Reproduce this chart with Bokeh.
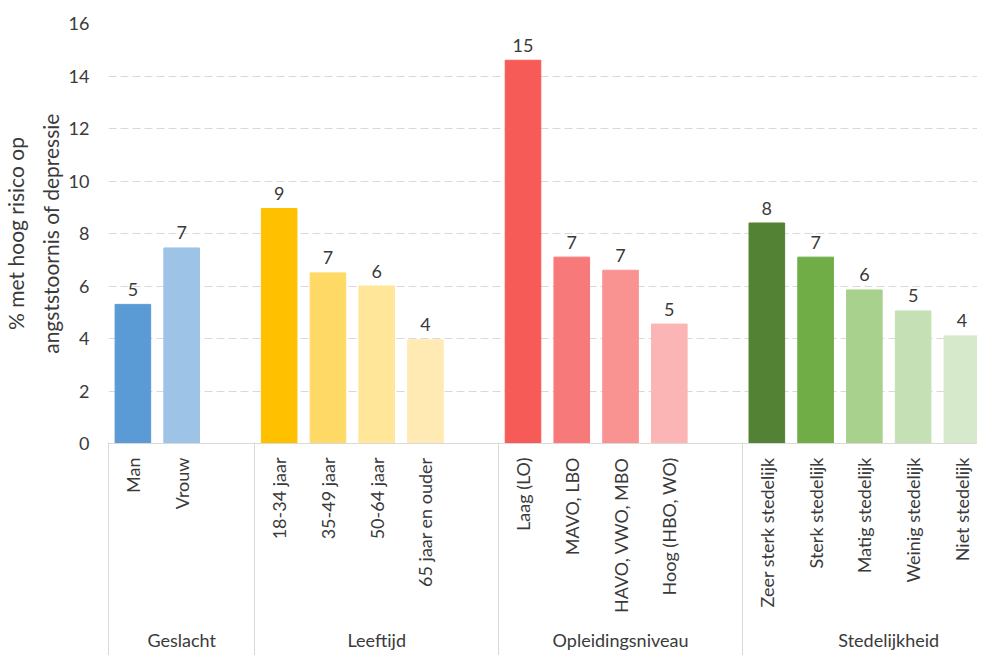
from math import pi
from bokeh.plotting import figure
from bokeh.models import ColumnDataSource, FixedTicker, LinearAxis, Range1d
from bokeh.core.properties import value
from bokeh.embed import file_html
from bokeh.resources import INLINE

# ---- data ----
categories = ["Man", "Vrouw",
              "18-34 jaar", "35-49 jaar", "50-64 jaar", "65 jaar en ouder",
              "Laag (LO)", "MAVO, LBO", "HAVO, VWO, MBO", "Hoog (HBO, WO)",
              "Zeer sterk stedelijk", "Sterk stedelijk", "Matig stedelijk",
              "Weinig stedelijk", "Niet stedelijk"]
groups = ["Geslacht", "Leeftijd", "Opleidingsniveau", "Stedelijkheid"]
group_sizes = [2, 4, 4, 5]
values = [5.3, 7.45, 8.95, 6.5, 6.0, 3.95,
          14.6, 7.1, 6.6, 4.55,
          8.4, 7.1, 5.85, 5.05, 4.1]
value_labels = ["5", "7", "9", "7", "6", "4",
                "15", "7", "7", "5",
                "8", "7", "6", "5", "4"]
colors = ["#5B9BD5", "#9DC3E6",
          "#FFC000", "#FFD966", "#FFE699", "#FFEAB3",
          "#F65B58", "#F87979", "#F99392", "#FBB5B5",
          "#548235", "#70AD47", "#A9D18E", "#C5E0B4", "#D6E9CA"]
y_ticks = [0, 2, 4, 6, 8, 10, 12, 14, 16]
y_label = "% met hoog risico op\nangststoornis of depressie"

# ---- layout of slots (one empty slot after each group) ----
xs = []
boundaries = [0]
group_centers = []
start = 0
for gi, n in enumerate(group_sizes):
    for i in range(n):
        xs.append(start + i + 0.5)
    width = n + 1
    group_centers.append(start + width / 2)
    start += width
    boundaries.append(start)

FONT = "Lato"
TXT = "#3A3A3A"
GRID = "#D9D9D9"
CAT_AXIS_H = 173  # approximate height of the category axis panel

src = ColumnDataSource(dict(x=xs, top=values, color=colors, label=value_labels))

p = figure(width=977, height=655, output_backend="svg", toolbar_location=None,
           x_range=Range1d(0, 17.82), y_range=Range1d(0, 16),
           min_border_left=99, min_border_right=0, min_border_top=23,
           min_border_bottom=212, x_axis_location=None)
p.outline_line_color = None
p.background_fill_color = "white"
p.border_fill_color = "white"

p.vbar(x="x", top="top", width=0.73, bottom=0, color="color", source=src)
p.text(x="x", y="top", text="label", source=src, y_offset=-15,
       text_align="center", text_baseline="alphabetic",
       text_font=value(FONT), text_font_size="18px", text_color=TXT)

# y axis
ya = p.yaxis[0]
ya.ticker = FixedTicker(ticks=y_ticks)
ya.axis_line_color = None
ya.major_tick_line_color = None
ya.minor_tick_line_color = None
ya.major_tick_out = 0
ya.major_tick_in = 0
ya.minor_tick_out = 0
ya.minor_tick_in = 0
ya.major_label_standoff = 19
ya.major_label_text_font = FONT
ya.major_label_text_font_size = "18px"
ya.major_label_text_color = TXT
ya.axis_label = y_label
ya.axis_label_text_font = FONT
ya.axis_label_text_font_size = "21px"
ya.axis_label_text_font_style = "normal"
ya.axis_label_text_color = TXT
ya.axis_label_text_line_height = 1.38
ya.axis_label_standoff = 3

p.xgrid.grid_line_color = None
p.ygrid.ticker = FixedTicker(ticks=y_ticks[1:])
p.ygrid.grid_line_color = GRID
p.ygrid.grid_line_dash = "8 4"

# category axis
cat_axis = LinearAxis(ticker=FixedTicker(ticks=xs, minor_ticks=[]))
cat_axis.major_label_overrides = {x: c for x, c in zip(xs, categories)}
cat_axis.major_label_orientation = pi / 2
cat_axis.major_label_standoff = 14
cat_axis.major_label_text_font = FONT
cat_axis.major_label_text_font_size = "18px"
cat_axis.major_label_text_color = TXT
cat_axis.axis_line_color = GRID
cat_axis.major_tick_line_color = None
cat_axis.minor_tick_line_color = None
cat_axis.major_tick_out = 0
cat_axis.major_tick_in = 0
cat_axis.minor_tick_out = 0
cat_axis.minor_tick_in = 0
p.add_layout(cat_axis, "below")

# group axis (its minor ticks draw the group separators)
grp_axis = LinearAxis(ticker=FixedTicker(ticks=group_centers, minor_ticks=boundaries))
grp_axis.major_label_overrides = {x: g for x, g in zip(group_centers, groups)}
grp_axis.major_label_standoff = -27
grp_axis.major_label_text_font = FONT
grp_axis.major_label_text_font_size = "18px"
grp_axis.major_label_text_color = TXT
grp_axis.axis_line_color = None
grp_axis.major_tick_line_color = None
grp_axis.major_tick_out = 0
grp_axis.major_tick_in = 0
grp_axis.minor_tick_line_color = GRID
grp_axis.minor_tick_in = CAT_AXIS_H
grp_axis.minor_tick_out = 40
p.add_layout(grp_axis, "below")

open("out.html", "w").write(file_html(p, INLINE))
